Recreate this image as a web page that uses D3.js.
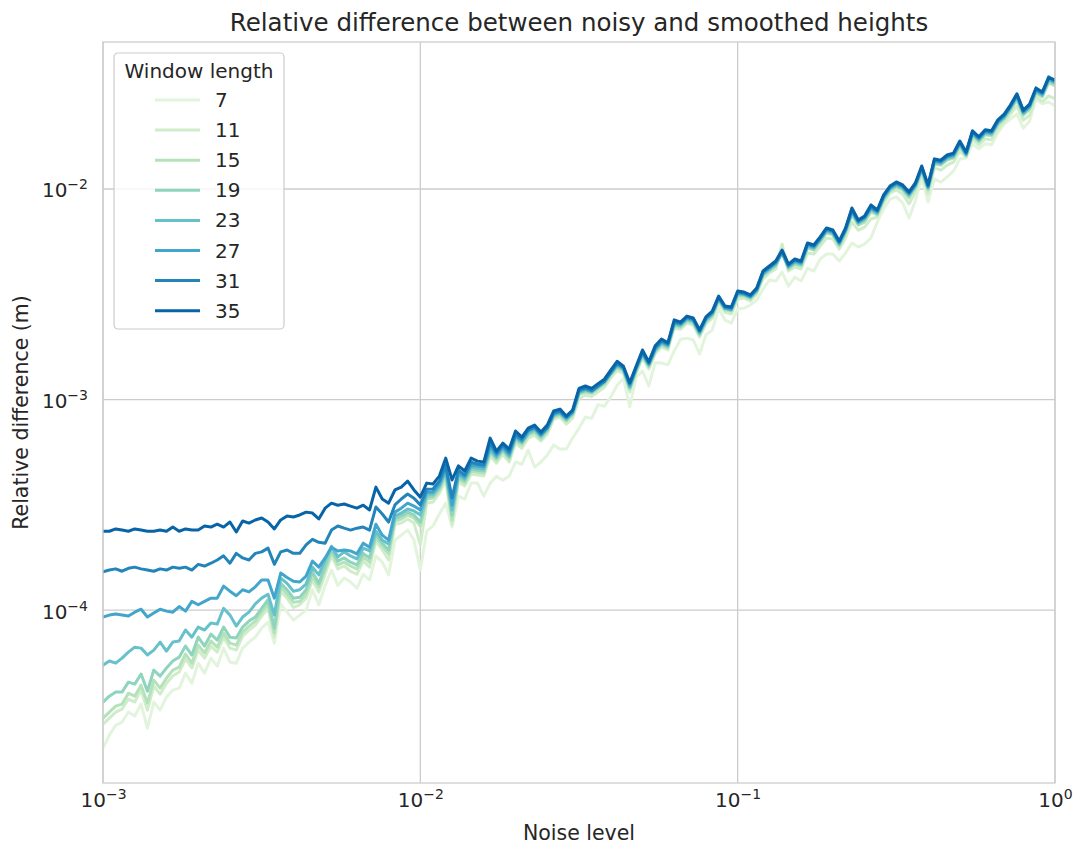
<!DOCTYPE html>
<html>
<head>
<meta charset="utf-8">
<script src="https://cdn.jsdelivr.net/npm/d3@7"></script>
<style>
  body { margin: 0; background: #ffffff; }
  svg { display: block; }
  text { font-family: "DejaVu Sans", sans-serif; fill: #262626; }
</style>
</head>
<body>
<svg id="chart" width="1078" height="850"></svg>
<script>
// Noise levels: 151 samples evenly spaced in log10 from 1e-3 to 1
const noiseLevels = d3.range(151).map(i => Math.pow(10, -3 + i * 0.02));

const windowLengths = [7, 11, 15, 19, 23, 27, 31, 35];

const w7 = [2.21e-5,2.55e-5,2.84e-5,2.94e-5,3.28e-5,3.14e-5,3.58e-5,2.75e-5,3.66e-5,3.35e-5,3.86e-5,
  4.17e-5,4.26e-5,5.02e-5,4.50e-5,5.60e-5,5.02e-5,5.92e-5,5.42e-5,6.60e-5,5.66e-5,
  5.60e-5,6.60e-5,7.05e-5,7.44e-5,8.22e-5,8.77e-5,6.97e-5,1.07e-4,9.78e-5,8.97e-5,
  9.47e-5,1.00e-4,1.25e-4,1.06e-4,1.31e-4,1.55e-4,1.31e-4,1.42e-4,1.36e-4,1.27e-4,
  1.48e-4,1.39e-4,1.81e-4,1.69e-4,1.47e-4,2.15e-4,2.27e-4,2.40e-4,2.15e-4,1.55e-4,
  2.37e-4,2.51e-4,2.86e-4,3.22e-4,2.48e-4,3.48e-4,3.37e-4,4.01e-4,4.01e-4,3.48e-4,
  4.01e-4,4.32e-4,4.14e-4,4.33e-4,5.05e-4,4.93e-4,5.75e-4,4.78e-4,5.05e-4,5.44e-4,
  6.08e-4,5.82e-4,5.82e-4,6.57e-4,7.30e-4,8.26e-4,8.14e-4,9.46e-4,9.30e-4,1.027e-3,
  1.169e-3,1.263e-3,9.23e-4,1.276e-3,1.367e-3,1.161e-3,1.494e-3,1.492e-3,1.462e-3,1.702e-3,
  1.934e-3,1.957e-3,1.918e-3,1.646e-3,2.028e-3,2.136e-3,2.719e-3,2.385e-3,2.307e-3,2.693e-3,
  2.718e-3,2.813e-3,2.973e-3,3.350e-3,3.698e-3,3.654e-3,4.032e-3,3.458e-3,3.818e-3,3.654e-3,
  4.210e-3,4.076e-3,4.653e-3,4.911e-3,4.914e-3,4.545e-3,4.963e-3,5.538e-3,5.297e-3,5.476e-3,
  5.855e-3,6.972e-3,8.039e-3,8.956e-3,9.169e-3,8.579e-3,7.279e-3,8.768e-3,1.128e-2,8.674e-3,
  1.116e-2,1.077e-2,1.140e-2,1.215e-2,1.387e-2,1.404e-2,1.639e-2,1.552e-2,1.639e-2,1.622e-2,
  1.847e-2,2.034e-2,2.154e-2,2.272e-2,1.946e-2,2.100e-2,2.676e-2,2.535e-2,2.592e-2,2.482e-2];

const w11 = [2.87e-5,3.07e-5,3.28e-5,3.39e-5,3.78e-5,3.66e-5,4.17e-5,3.35e-5,4.36e-5,3.99e-5,4.50e-5,
  4.86e-5,5.08e-5,5.86e-5,5.31e-5,6.46e-5,5.92e-5,6.75e-5,6.32e-5,7.44e-5,6.60e-5,
  6.46e-5,7.52e-5,8.04e-5,8.49e-5,9.37e-5,1.02e-4,7.44e-5,1.23e-4,1.14e-4,1.03e-4,
  1.06e-4,1.14e-4,1.39e-4,1.22e-4,1.48e-4,1.81e-4,1.57e-4,1.62e-4,1.53e-4,1.48e-4,
  1.71e-4,1.60e-4,2.13e-4,1.93e-4,1.73e-4,2.56e-4,2.59e-4,2.71e-4,2.59e-4,2.04e-4,
  3.22e-4,3.26e-4,3.59e-4,4.14e-4,2.56e-4,4.06e-4,3.89e-4,4.42e-4,4.38e-4,4.33e-4,
  5.39e-4,4.99e-4,5.50e-4,5.05e-4,6.22e-4,5.87e-4,6.56e-4,6.77e-4,6.35e-4,6.85e-4,
  8.08e-4,8.25e-4,7.65e-4,8.17e-4,1.012e-3,1.051e-3,1.035e-3,1.090e-3,1.145e-3,1.264e-3,
  1.377e-3,1.333e-3,1.087e-3,1.333e-3,1.576e-3,1.398e-3,1.649e-3,1.777e-3,1.722e-3,2.189e-3,
  2.158e-3,2.306e-3,2.259e-3,1.982e-3,2.287e-3,2.435e-3,2.902e-3,2.602e-3,2.547e-3,3.004e-3,
  3.033e-3,2.939e-3,3.173e-3,3.737e-3,3.991e-3,4.168e-3,5.479e-3,4.074e-3,4.259e-3,4.168e-3,
  4.964e-3,4.911e-3,5.364e-3,5.851e-3,5.789e-3,5.185e-3,5.851e-3,6.967e-3,6.380e-3,6.592e-3,
  7.207e-3,7.362e-3,8.583e-3,9.566e-3,9.893e-3,9.468e-3,8.489e-3,9.676e-3,1.178e-2,9.468e-3,
  1.259e-2,1.228e-2,1.299e-2,1.341e-2,1.514e-2,1.421e-2,1.731e-2,1.621e-2,1.730e-2,1.712e-2,
  1.930e-2,2.079e-2,2.274e-2,2.482e-2,2.124e-2,2.242e-2,2.766e-2,2.589e-2,2.767e-2,2.680e-2];

const w15 = [3.07e-5,3.28e-5,3.50e-5,3.58e-5,4.03e-5,3.90e-5,4.40e-5,3.62e-5,4.65e-5,4.26e-5,4.75e-5,
  5.19e-5,5.36e-5,6.19e-5,5.60e-5,6.82e-5,6.26e-5,7.13e-5,6.67e-5,7.78e-5,6.97e-5,
  6.82e-5,7.86e-5,8.40e-5,8.87e-5,9.78e-5,1.07e-4,7.78e-5,1.29e-4,1.19e-4,1.09e-4,
  1.10e-4,1.19e-4,1.45e-4,1.29e-4,1.55e-4,1.89e-4,1.64e-4,1.69e-4,1.62e-4,1.57e-4,
  1.79e-4,1.69e-4,2.22e-4,2.01e-4,1.85e-4,2.65e-4,2.71e-4,2.83e-4,2.74e-4,2.51e-4,
  3.36e-4,3.41e-4,3.72e-4,4.37e-4,2.68e-4,4.20e-4,4.02e-4,4.57e-4,4.52e-4,4.47e-4,
  5.57e-4,5.16e-4,5.69e-4,5.21e-4,6.42e-4,6.07e-4,6.78e-4,7.00e-4,6.49e-4,7.08e-4,
  8.26e-4,8.43e-4,7.91e-4,8.45e-4,1.058e-3,1.086e-3,1.070e-3,1.127e-3,1.184e-3,1.307e-3,
  1.423e-3,1.364e-3,1.123e-3,1.364e-3,1.610e-3,1.430e-3,1.685e-3,1.816e-3,1.761e-3,2.237e-3,
  2.207e-3,2.358e-3,2.311e-3,2.027e-3,2.339e-3,2.491e-3,2.967e-3,2.660e-3,2.632e-3,3.106e-3,
  3.101e-3,3.005e-3,3.244e-3,3.864e-3,4.082e-3,4.309e-3,5.074e-3,4.167e-3,4.404e-3,4.309e-3,
  5.246e-3,5.133e-3,5.606e-3,6.184e-3,6.051e-3,5.360e-3,6.184e-3,7.519e-3,6.743e-3,6.964e-3,
  7.778e-3,7.529e-3,8.873e-3,9.783e-3,1.023e-2,9.896e-3,9.060e-3,1.011e-2,1.218e-2,9.896e-3,
  1.316e-2,1.297e-2,1.373e-2,1.402e-2,1.582e-2,1.436e-2,1.790e-2,1.676e-2,1.809e-2,1.790e-2,
  2.017e-2,2.150e-2,2.377e-2,2.649e-2,2.244e-2,2.396e-2,2.860e-2,2.737e-2,3.191e-2,3.089e-2];

const w19 = [3.66e-5,3.90e-5,4.08e-5,4.08e-5,4.55e-5,4.45e-5,4.97e-5,4.12e-5,5.19e-5,4.86e-5,5.31e-5,
  5.73e-5,5.98e-5,6.75e-5,6.12e-5,7.44e-5,6.75e-5,7.69e-5,7.21e-5,8.31e-5,7.44e-5,
  7.37e-5,8.31e-5,8.87e-5,9.27e-5,1.02e-4,1.12e-4,8.22e-5,1.34e-4,1.25e-4,1.14e-4,
  1.15e-4,1.25e-4,1.52e-4,1.34e-4,1.62e-4,1.95e-4,1.71e-4,1.77e-4,1.69e-4,1.64e-4,
  1.86e-4,1.77e-4,2.30e-4,2.08e-4,1.93e-4,2.71e-4,2.80e-4,2.92e-4,2.83e-4,2.62e-4,
  3.44e-4,3.48e-4,3.80e-4,4.47e-4,2.83e-4,4.29e-4,4.10e-4,4.67e-4,4.62e-4,4.58e-4,
  5.69e-4,5.27e-4,5.75e-4,5.33e-4,6.49e-4,6.21e-4,6.85e-4,7.08e-4,6.64e-4,7.16e-4,
  8.35e-4,8.53e-4,7.99e-4,8.54e-4,1.070e-3,1.099e-3,1.081e-3,1.139e-3,1.196e-3,1.321e-3,
  1.439e-3,1.378e-3,1.136e-3,1.378e-3,1.629e-3,1.445e-3,1.705e-3,1.837e-3,1.780e-3,2.263e-3,
  2.230e-3,2.383e-3,2.335e-3,2.048e-3,2.364e-3,2.517e-3,3.001e-3,2.691e-3,2.662e-3,3.139e-3,
  3.136e-3,3.040e-3,3.282e-3,3.905e-3,4.125e-3,4.354e-3,4.966e-3,4.211e-3,4.450e-3,4.354e-3,
  5.302e-3,5.187e-3,5.665e-3,6.249e-3,6.115e-3,5.417e-3,6.249e-3,7.690e-3,6.814e-3,7.120e-3,
  7.955e-3,7.608e-3,8.967e-3,9.886e-3,1.034e-2,1.000e-2,9.264e-3,1.022e-2,1.231e-2,1.000e-2,
  1.330e-2,1.311e-2,1.388e-2,1.416e-2,1.617e-2,1.452e-2,1.809e-2,1.694e-2,1.828e-2,1.809e-2,
  2.038e-2,2.172e-2,2.402e-2,2.708e-2,2.268e-2,2.421e-2,2.890e-2,2.766e-2,3.262e-2,3.158e-2];

const w23 = [5.48e-5,5.73e-5,5.60e-5,5.92e-5,6.32e-5,6.67e-5,6.60e-5,6.12e-5,6.46e-5,7.05e-5,6.39e-5,
  7.05e-5,7.13e-5,8.04e-5,7.44e-5,8.31e-5,8.04e-5,8.68e-5,8.58e-5,1.02e-4,9.47e-5,
  8.40e-5,9.27e-5,9.78e-5,1.07e-4,1.14e-4,1.19e-4,9.47e-5,1.42e-4,1.34e-4,1.23e-4,
  1.25e-4,1.33e-4,1.60e-4,1.47e-4,1.73e-4,2.01e-4,1.79e-4,1.89e-4,1.81e-4,1.75e-4,
  1.97e-4,1.91e-4,2.37e-4,2.15e-4,2.06e-4,2.80e-4,2.89e-4,3.02e-4,2.96e-4,2.83e-4,
  3.55e-4,3.56e-4,3.88e-4,4.57e-4,2.99e-4,4.39e-4,4.20e-4,4.77e-4,4.72e-4,4.68e-4,
  5.81e-4,5.33e-4,5.88e-4,5.39e-4,6.64e-4,6.28e-4,6.93e-4,7.23e-4,6.71e-4,7.23e-4,
  8.44e-4,8.62e-4,8.08e-4,8.63e-4,1.081e-3,1.110e-3,1.094e-3,1.152e-3,1.210e-3,1.336e-3,
  1.455e-3,1.394e-3,1.148e-3,1.394e-3,1.646e-3,1.462e-3,1.723e-3,1.857e-3,1.800e-3,2.287e-3,
  2.255e-3,2.410e-3,2.362e-3,2.072e-3,2.391e-3,2.546e-3,3.001e-3,2.719e-3,2.662e-3,3.175e-3,
  3.169e-3,3.071e-3,3.282e-3,3.949e-3,4.172e-3,4.404e-3,4.966e-3,4.259e-3,4.501e-3,4.404e-3,
  5.363e-3,5.247e-3,5.731e-3,6.321e-3,6.186e-3,5.479e-3,6.321e-3,7.771e-3,6.892e-3,7.202e-3,
  8.039e-3,7.696e-3,9.070e-3,1.000e-2,1.045e-2,1.012e-2,9.370e-3,1.034e-2,1.245e-2,1.012e-2,
  1.346e-2,1.326e-2,1.404e-2,1.433e-2,1.636e-2,1.452e-2,1.830e-2,1.713e-2,1.849e-2,1.830e-2,
  2.062e-2,2.197e-2,2.430e-2,2.739e-2,2.294e-2,2.449e-2,2.923e-2,2.798e-2,3.296e-2,3.194e-2];

const w27 = [9.27e-5,9.47e-5,9.58e-5,9.47e-5,9.37e-5,9.78e-5,1.01e-4,9.27e-5,9.68e-5,1.01e-4,9.89e-5,
  9.78e-5,1.04e-4,9.89e-5,1.10e-4,1.06e-4,1.10e-4,1.14e-4,1.14e-4,1.30e-4,1.23e-4,
  1.17e-4,1.25e-4,1.22e-4,1.29e-4,1.39e-4,1.39e-4,1.14e-4,1.50e-4,1.43e-4,1.37e-4,
  1.36e-4,1.45e-4,1.71e-4,1.60e-4,1.77e-4,1.99e-4,1.91e-4,1.93e-4,1.91e-4,1.85e-4,
  2.08e-4,1.99e-4,2.56e-4,2.27e-4,2.15e-4,2.92e-4,3.05e-4,3.22e-4,3.12e-4,2.99e-4,
  3.63e-4,3.64e-4,3.97e-4,4.72e-4,3.15e-4,4.48e-4,4.29e-4,4.88e-4,4.83e-4,4.78e-4,
  6.01e-4,5.45e-4,5.94e-4,5.51e-4,6.71e-4,6.35e-4,7.09e-4,7.32e-4,6.79e-4,7.32e-4,
  8.54e-4,8.72e-4,8.17e-4,8.72e-4,1.094e-3,1.123e-3,1.094e-3,1.152e-3,1.223e-3,1.336e-3,
  1.471e-3,1.408e-3,1.162e-3,1.408e-3,1.665e-3,1.477e-3,1.742e-3,1.878e-3,1.819e-3,2.314e-3,
  2.279e-3,2.435e-3,2.386e-3,2.093e-3,2.416e-3,2.572e-3,3.032e-3,2.719e-3,2.690e-3,3.208e-3,
  3.169e-3,3.071e-3,3.315e-3,3.990e-3,4.215e-3,4.450e-3,5.017e-3,4.303e-3,4.548e-3,4.450e-3,
  5.418e-3,5.301e-3,5.790e-3,6.386e-3,6.249e-3,5.535e-3,6.386e-3,7.860e-3,6.963e-3,7.276e-3,
  8.131e-3,7.775e-3,9.164e-3,1.010e-2,1.056e-2,1.022e-2,9.467e-3,1.045e-2,1.258e-2,1.022e-2,
  1.359e-2,1.340e-2,1.418e-2,1.447e-2,1.653e-2,1.467e-2,1.848e-2,1.731e-2,1.868e-2,1.848e-2,
  2.083e-2,2.220e-2,2.455e-2,2.768e-2,2.318e-2,2.474e-2,2.954e-2,2.826e-2,3.333e-2,3.227e-2];

const w31 = [1.52e-4,1.55e-4,1.57e-4,1.53e-4,1.58e-4,1.60e-4,1.57e-4,1.55e-4,1.53e-4,1.57e-4,1.55e-4,
  1.60e-4,1.58e-4,1.60e-4,1.55e-4,1.65e-4,1.62e-4,1.67e-4,1.73e-4,1.81e-4,1.67e-4,
  1.86e-4,1.77e-4,1.73e-4,1.86e-4,1.89e-4,1.97e-4,1.65e-4,1.89e-4,1.93e-4,1.86e-4,
  1.86e-4,2.04e-4,2.17e-4,2.10e-4,2.08e-4,2.40e-4,2.51e-4,2.45e-4,2.40e-4,2.45e-4,
  2.48e-4,2.40e-4,3.09e-4,2.86e-4,2.62e-4,3.16e-4,3.37e-4,3.56e-4,3.40e-4,3.16e-4,
  3.75e-4,3.76e-4,4.10e-4,4.88e-4,3.41e-4,4.63e-4,4.38e-4,5.04e-4,4.94e-4,4.89e-4,
  6.21e-4,5.56e-4,6.07e-4,5.63e-4,6.86e-4,6.48e-4,7.16e-4,7.39e-4,6.86e-4,7.39e-4,
  8.63e-4,8.81e-4,8.26e-4,8.82e-4,1.105e-3,1.134e-3,1.105e-3,1.164e-3,1.22e-3,1.35e-3,
  1.49e-3,1.42e-3,1.19e-3,1.42e-3,1.68e-3,1.49e-3,1.76e-3,1.90e-3,1.84e-3,2.34e-3,
  2.30e-3,2.46e-3,2.41e-3,2.12e-3,2.44e-3,2.60e-3,3.07e-3,2.75e-3,2.72e-3,3.24e-3,
  3.20e-3,3.11e-3,3.35e-3,4.04e-3,4.26e-3,4.50e-3,5.07e-3,4.35e-3,4.60e-3,4.50e-3,
  5.48e-3,5.36e-3,5.85e-3,6.46e-3,6.32e-3,5.60e-3,6.46e-3,7.94e-3,7.04e-3,7.36e-3,
  8.22e-3,7.86e-3,9.27e-3,1.022e-2,1.068e-2,1.034e-2,9.57e-3,1.056e-2,1.272e-2,1.034e-2,
  1.375e-2,1.355e-2,1.434e-2,1.464e-2,1.671e-2,1.484e-2,1.869e-2,1.751e-2,1.889e-2,1.869e-2,
  2.107e-2,2.245e-2,2.482e-2,2.799e-2,2.344e-2,2.502e-2,2.987e-2,2.858e-2,3.407e-2,3.264e-2];

const w35 = [2.37e-4,2.37e-4,2.43e-4,2.40e-4,2.37e-4,2.43e-4,2.40e-4,2.37e-4,2.37e-4,2.40e-4,2.37e-4,
  2.48e-4,2.37e-4,2.43e-4,2.40e-4,2.40e-4,2.51e-4,2.48e-4,2.56e-4,2.48e-4,2.62e-4,
  2.35e-4,2.65e-4,2.59e-4,2.68e-4,2.74e-4,2.62e-4,2.43e-4,2.68e-4,2.80e-4,2.77e-4,
  2.83e-4,2.92e-4,2.89e-4,2.71e-4,3.05e-4,3.22e-4,3.15e-4,3.19e-4,3.12e-4,3.05e-4,
  3.15e-4,2.99e-4,3.84e-4,3.37e-4,3.22e-4,3.72e-4,3.84e-4,4.10e-4,3.72e-4,3.44e-4,
  4.01e-4,3.97e-4,4.33e-4,5.27e-4,4.15e-4,4.84e-4,4.58e-4,5.27e-4,5.10e-4,5.05e-4,
  6.56e-4,5.69e-4,6.21e-4,5.82e-4,7.09e-4,6.63e-4,7.32e-4,7.56e-4,7.01e-4,7.56e-4,
  8.82e-4,9.01e-4,8.35e-4,8.92e-4,1.13e-3,1.16e-3,1.13e-3,1.19e-3,1.25e-3,1.38e-3,
  1.52e-3,1.44e-3,1.20e-3,1.44e-3,1.72e-3,1.51e-3,1.80e-3,1.94e-3,1.86e-3,2.39e-3,
  2.33e-3,2.49e-3,2.44e-3,2.14e-3,2.47e-3,2.63e-3,3.10e-3,2.78e-3,2.75e-3,3.28e-3,
  3.24e-3,3.14e-3,3.39e-3,4.08e-3,4.31e-3,4.55e-3,5.13e-3,4.40e-3,4.65e-3,4.55e-3,
  5.54e-3,5.42e-3,5.92e-3,6.53e-3,6.39e-3,5.66e-3,6.53e-3,8.12e-3,7.12e-3,7.44e-3,
  8.40e-3,7.95e-3,9.37e-3,1.033e-2,1.08e-2,1.045e-2,9.68e-3,1.068e-2,1.286e-2,1.045e-2,
  1.39e-2,1.37e-2,1.45e-2,1.48e-2,1.69e-2,1.50e-2,1.89e-2,1.77e-2,1.91e-2,1.89e-2,
  2.13e-2,2.27e-2,2.51e-2,2.83e-2,2.37e-2,2.53e-2,3.02e-2,2.89e-2,3.37e-2,3.30e-2];

const seriesValues = [w7, w11, w15, w19, w23, w27, w31, w35];

// GnBu shades, light to dark, one per window length
const lineColors = ["#e3f4dd", "#d0edca", "#b4e2ba", "#8fd4bd", "#67c1cb", "#42a6cc", "#2384ba", "#0864a7"];

const xTickValues = [1e-3, 1e-2, 1e-1, 1];
const xTickExponents = ["\u22123", "\u22122", "\u22121", "0"];
const yTickValues = [1e-4, 1e-3, 1e-2];
const yTickExponents = ["\u22124", "\u22123", "\u22122"];

const chartTitle = "Relative difference between noisy and smoothed heights";
const xLabel = "Noise level";
const yLabel = "Relative difference (m)";
const legendTitle = "Window length";

// ---- layout ----
const W = 1078, H = 850;
const margin = { top: 42, right: 23, bottom: 67, left: 103 };
const iw = W - margin.left - margin.right;
const ih = H - margin.top - margin.bottom;

const svg = d3.select("#chart");
svg.append("rect").attr("width", W).attr("height", H).attr("fill", "#ffffff");

const g = svg.append("g").attr("transform", `translate(${margin.left},${margin.top})`);

const x = d3.scaleLog().domain([1e-3, 1]).range([0, iw]);
const y = d3.scaleLog().domain([1.51e-5, 4.99e-2]).range([ih, 0]);

const gridColor = "#cccccc";

// grid lines
g.append("g").selectAll("line").data(xTickValues).join("line")
  .attr("x1", d => x(d)).attr("x2", d => x(d))
  .attr("y1", 0).attr("y2", ih)
  .attr("stroke", gridColor).attr("stroke-width", 1.3);
g.append("g").selectAll("line").data(yTickValues).join("line")
  .attr("x1", 0).attr("x2", iw)
  .attr("y1", d => y(d)).attr("y2", d => y(d))
  .attr("stroke", gridColor).attr("stroke-width", 1.3);

// axes (tick marks hidden, labels written as 10^n)
const tickFont = 20, supFont = 14;
const xAxis = d3.axisBottom(x).tickValues(xTickValues).tickSize(0).tickFormat(() => "");
const gx = g.append("g").attr("transform", `translate(0,${ih})`).call(xAxis);
gx.select(".domain").remove();
gx.selectAll(".tick").each(function (d, i) {
  const t = d3.select(this).append("text")
    .attr("y", 24).attr("text-anchor", "middle")
    .style("font-size", tickFont + "px").attr("fill", "#262626");
  t.append("tspan").text("10");
  t.append("tspan").attr("dy", -8).style("font-size", supFont + "px").text(xTickExponents[i]);
});

const yAxis = d3.axisLeft(y).tickValues(yTickValues).tickSize(0).tickFormat(() => "");
const gy = g.append("g").call(yAxis);
gy.select(".domain").remove();
gy.selectAll(".tick").each(function (d, i) {
  const t = d3.select(this).append("text")
    .attr("x", -15).attr("y", 8).attr("text-anchor", "end")
    .style("font-size", tickFont + "px").attr("fill", "#262626");
  t.append("tspan").text("10");
  t.append("tspan").attr("dy", -8).style("font-size", supFont + "px").text(yTickExponents[i]);
});

// clip region for the lines
svg.append("defs").append("clipPath").attr("id", "plot-clip")
  .append("rect").attr("width", iw).attr("height", ih);

const line = d3.line()
  .x((d, i) => x(noiseLevels[i]))
  .y(d => y(d));

g.append("g").attr("clip-path", "url(#plot-clip)")
  .selectAll("path").data(seriesValues).join("path")
  .attr("d", d => line(d))
  .attr("fill", "none")
  .attr("stroke", (d, i) => lineColors[i])
  .attr("stroke-width", 3)
  .attr("stroke-linejoin", "round")
  .attr("stroke-linecap", "round");

// frame
g.append("rect").attr("width", iw).attr("height", ih)
  .attr("fill", "none").attr("stroke", gridColor).attr("stroke-width", 1.3);

// title and axis labels
svg.append("text").attr("x", margin.left + iw / 2).attr("y", 31)
  .attr("text-anchor", "middle").style("font-size", "24.5px").text(chartTitle);
svg.append("text").attr("x", margin.left + iw / 2).attr("y", 840)
  .attr("text-anchor", "middle").style("font-size", "20.5px").text(xLabel);
svg.append("text").attr("transform", `translate(28,${margin.top + ih / 2}) rotate(-90)`)
  .attr("text-anchor", "middle").style("font-size", "20.5px").text(yLabel);

// legend
const lg = svg.append("g").attr("transform", "translate(114,53)");
lg.append("rect").attr("width", 170).attr("height", 276).attr("rx", 4)
  .attr("fill", "#ffffff").attr("fill-opacity", 0.8)
  .attr("stroke", gridColor).attr("stroke-width", 1.2);
lg.append("text").attr("x", 85).attr("y", 25).attr("text-anchor", "middle")
  .style("font-size", "20px").attr("fill", "#000000").text(legendTitle);
const rows = lg.selectAll("g.row").data(windowLengths).join("g").attr("class", "row")
  .attr("transform", (d, i) => `translate(0,${47 + i * 30.1})`);
rows.append("line").attr("x1", 41).attr("x2", 86).attr("y1", 0).attr("y2", 0)
  .attr("stroke", (d, i) => lineColors[i]).attr("stroke-width", 3);
rows.append("text").attr("x", 101).attr("y", 7)
  .style("font-size", "20px").attr("fill", "#000000").text(d => d);
</script>
</body>
</html>
